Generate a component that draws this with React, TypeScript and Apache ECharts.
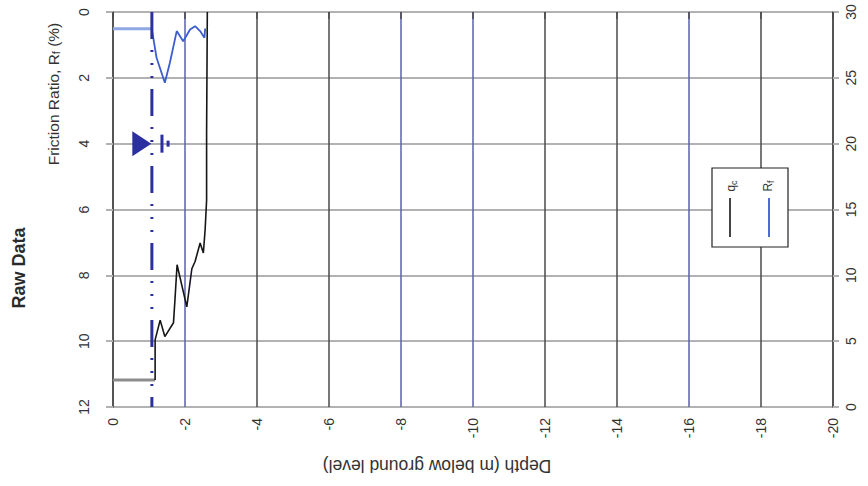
import React, { useEffect, useRef } from 'react';
import * as echarts from 'echarts';

// Depth (m below ground level) values along the horizontal axis
const preDrillDepthQc = [0, -1.17];
const preDrillQc = [2.05, 2.05];
const preDrillDepthRf = [0, -1.08];
const preDrillRf = [0.51, 0.51];

const qcDepth = [-1.17, -1.17, -1.31, -1.44, -1.68, -1.72, -1.78, -2.05, -2.19, -2.28, -2.42, -2.51, -2.56, -2.6, -2.6, -2.62];
const qcValues = [2.05, 5.1, 6.6, 5.35, 6.4, 8.1, 10.8, 7.6, 10.5, 11.05, 12.45, 11.7, 13.5, 15.7, 20.8, 30];

const rfDepth = [-1.08, -1.21, -1.44, -1.58, -1.77, -1.95, -2.14, -2.28, -2.42, -2.54, -2.56];
const rfValues = [0.53, 1.39, 2.15, 1.54, 0.58, 0.89, 0.53, 0.43, 0.58, 0.78, 0.5];

const waterTableDepth = -1.08;
const waterSymbolRf = 4;

const depthTicks = [-20, -18, -16, -14, -12, -10, -8, -6, -4, -2, 0];
const blueDepthLines = [-16, -10, -8, -2];

const FONT = 'Liberation Sans, Arial, Helvetica, sans-serif';
const DARK = '#4a4a4a';
const BLUE = '#5a5fb0';
const GRIDH = '#b2b2b2';
const WATER = '#2b2f9f';
const TXT = '#333333';

const zip = (a: number[], b: number[]) => a.map((v, i) => [v, b[i]]);

export default function App() {
  const ref = useRef<HTMLDivElement>(null);
  useEffect(() => {
    const chart = echarts.init(ref.current as HTMLDivElement, null, { renderer: 'svg' });
    const splitColors = depthTicks.map((v) => (blueDepthLines.includes(v) ? BLUE : DARK));
    const option: any = {
      animation: false,
      backgroundColor: '#ffffff',
      grid: { left: 113, right: 35, top: 12, bottom: 79, outerBoundsMode: 'none' },
      xAxis: {
        type: 'value',
        min: -20,
        max: 0,
        interval: 2,
        inverse: true,
        position: 'bottom',
        axisLine: { show: false },
        axisTick: { show: true, length: 7, lineStyle: { color: DARK, width: 1.5 } },
        axisLabel: { rotate: 90, margin: 11, fontSize: 14, color: TXT, fontFamily: FONT },
        splitLine: { show: true, lineStyle: { color: splitColors, width: 1.5 } },
      },
      yAxis: [
        {
          type: 'value',
          min: 0,
          max: 12,
          interval: 2,
          inverse: true,
          position: 'left',
          axisLine: { show: true, lineStyle: { color: DARK, width: 1.5 } },
          axisTick: { show: true, length: 7, lineStyle: { color: GRIDH, width: 2 } },
          axisLabel: { rotate: 90, margin: 22, fontSize: 14, color: TXT, fontFamily: FONT },
          splitLine: { show: true, lineStyle: { color: GRIDH, width: 2 } },
        },
        {
          type: 'value',
          min: 0,
          max: 30,
          interval: 5,
          position: 'right',
          axisLine: { show: true, lineStyle: { color: DARK, width: 1.5 } },
          axisTick: { show: true, length: 6, lineStyle: { color: GRIDH, width: 2 } },
          axisLabel: { rotate: 90, margin: 11, fontSize: 14, color: TXT, fontFamily: FONT },
          splitLine: { show: false },
        },
      ],
      series: [
        {
          type: 'line', yAxisIndex: 1, symbol: 'none', data: zip(preDrillDepthQc, preDrillQc),
          lineStyle: { color: '#8c8c8c', width: 3 }, z: 3,
        },
        {
          type: 'line', yAxisIndex: 1, symbol: 'none', data: zip(qcDepth, qcValues),
          lineStyle: { color: '#161616', width: 1.6 }, z: 4,
        },
        {
          type: 'line', yAxisIndex: 0, symbol: 'none', data: zip(preDrillDepthRf, preDrillRf),
          lineStyle: { color: '#8fa8e4', width: 3 }, z: 3,
        },
        {
          type: 'line', yAxisIndex: 0, symbol: 'none', data: zip(rfDepth, rfValues),
          lineStyle: { color: '#3d5ccf', width: 1.8 }, z: 4,
        },
        {
          type: 'line', yAxisIndex: 0, symbol: 'none',
          data: [[waterTableDepth, 0], [waterTableDepth, 12]],
          lineStyle: { color: WATER, width: 3, type: [27, 11, 2, 11, 2, 11, 2, 11] }, z: 5,
        },
        {
          type: 'scatter', yAxisIndex: 0, silent: true, z: 6,
          itemStyle: { color: WATER, opacity: 1 },
          data: [
            { value: [-0.8, waterSymbolRf], symbol: 'triangle', symbolSize: [25, 19], symbolRotate: -90 },
            { value: [-1.36, waterSymbolRf], symbol: 'rect', symbolSize: [3, 18] },
            { value: [-1.53, waterSymbolRf], symbol: 'rect', symbolSize: [3, 6] },
          ],
        },
      ],
      graphic: [
        {
          type: 'text', x: 53, y: 94, rotation: Math.PI / 2, z: 100,
          style: {
            text: '{n|Friction Ratio, R}{s|f}{n| (%)}',
            align: 'center', verticalAlign: 'middle',
            rich: {
              n: { fontSize: 15.5, fontFamily: FONT, fill: TXT },
              s: { fontSize: 11, fontFamily: FONT, fill: TXT, padding: [6, 0, 0, 0] },
            },
          },
        },
        {
          type: 'text', x: 19, y: 268, rotation: Math.PI / 2, z: 100,
          style: { text: 'Raw Data', fontSize: 18, fontWeight: 'bold', fontFamily: FONT, fill: '#2a2a2a', align: 'center', verticalAlign: 'middle' },
        },
        {
          type: 'text', x: 437, y: 466, rotation: Math.PI, z: 100,
          style: { text: 'Depth (m below ground level)', fontSize: 17.5, fontFamily: FONT, fill: TXT, align: 'center', verticalAlign: 'middle' },
        },
        {
          type: 'group', z: 100,
          children: [
            { type: 'rect', shape: { x: 712, y: 168, width: 76, height: 79 }, style: { fill: '#ffffff', stroke: '#222222', lineWidth: 1.2 }, z: 100 },
            { type: 'line', shape: { x1: 730, y1: 198, x2: 730, y2: 237 }, style: { stroke: '#161616', lineWidth: 1.6 }, z: 101 },
            { type: 'line', shape: { x1: 769, y1: 198, x2: 769, y2: 237 }, style: { stroke: '#3d5ccf', lineWidth: 1.8 }, z: 101 },
            {
              type: 'text', x: 731, y: 186, rotation: Math.PI / 2, z: 101,
              style: {
                text: '{n|q}{s|c}', align: 'center', verticalAlign: 'middle',
                rich: { n: { fontSize: 12, fontFamily: FONT, fill: TXT }, s: { fontSize: 9, fontFamily: FONT, fill: TXT, padding: [5, 0, 0, 0] } },
              },
            },
            {
              type: 'text', x: 768, y: 186, rotation: Math.PI / 2, z: 101,
              style: {
                text: '{n|R}{s|f}', align: 'center', verticalAlign: 'middle',
                rich: { n: { fontSize: 12, fontFamily: FONT, fill: TXT }, s: { fontSize: 9, fontFamily: FONT, fill: TXT, padding: [5, 0, 0, 0] } },
              },
            },
          ],
        },
      ],
    };
    chart.setOption(option);
    return () => chart.dispose();
  }, []);
  return <div ref={ref} style={{ position: 'absolute', left: 0, top: 0, width: 868, height: 486 }} />;
}
